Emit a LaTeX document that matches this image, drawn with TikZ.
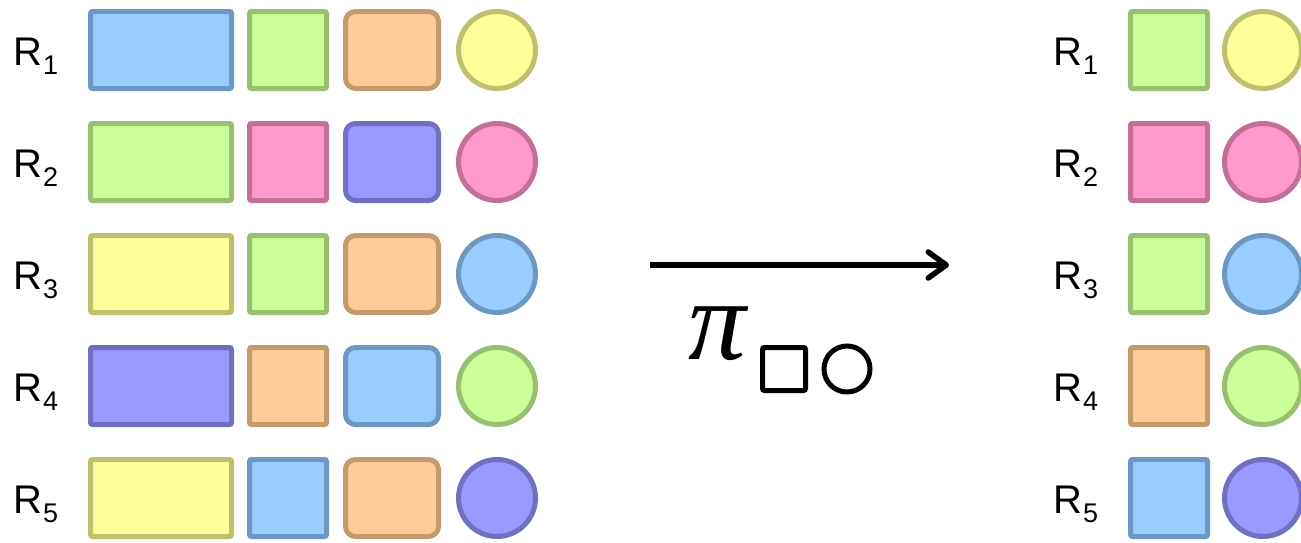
\documentclass[tikz,border=0pt]{standalone}
\usepackage{fontspec}
\setmainfont{Liberation Sans}
\newfontfamily\piserif{Liberation Serif}
\usetikzlibrary{arrows.meta}
\definecolor{bfill}{HTML}{99CCFF}\definecolor{bdraw}{HTML}{6E97C2}
\definecolor{gfill}{HTML}{CCFF99}\definecolor{gdraw}{HTML}{99BF73}
\definecolor{ofill}{HTML}{FFCC99}\definecolor{odraw}{HTML}{C29A70}
\definecolor{yfill}{HTML}{FFFF99}\definecolor{ydraw}{HTML}{BFBF6E}
\definecolor{pfill}{HTML}{FF99CC}\definecolor{pdraw}{HTML}{C2709A}
\definecolor{vfill}{HTML}{9999FF}\definecolor{vdraw}{HTML}{7070C2}
\tikzset{
  shp/.style={line width=5pt, inner sep=0pt, outer sep=0pt, minimum height=77pt},
  wide/.style={shp, rectangle, rounded corners=2pt, minimum width=141pt},
  sqr/.style={shp, rectangle, rounded corners=2pt, minimum width=77pt},
  rsq/.style={shp, rectangle, rounded corners=10pt, minimum width=93pt},
  circ/.style={shp, circle, minimum size=77pt},
  cB/.style={fill=bfill, draw=bdraw}, cG/.style={fill=gfill, draw=gdraw},
  cO/.style={fill=ofill, draw=odraw}, cY/.style={fill=yfill, draw=ydraw},
  cP/.style={fill=pfill, draw=pdraw}, cV/.style={fill=vfill, draw=vdraw},
  lbl/.style={inner sep=0pt, anchor=base west, font=\fontsize{40}{40}\selectfont},
}
\newcommand{\rlab}[1]{R\kern1pt\raisebox{-9pt}{\fontsize{27}{27}\selectfont #1}}
\begin{document}
\begin{tikzpicture}[x=1pt,y=-1pt]
\useasboundingbox (0,0) rectangle (1301,542);
\foreach \i/\a/\b/\c/\d in {1/cB/cG/cO/cY, 2/cG/cP/cV/cP, 3/cY/cG/cO/cB, 4/cV/cO/cB/cG, 5/cY/cB/cO/cV}{
  \pgfmathsetmacro{\yy}{50+112*(\i-1)}
  \node[lbl] (L\i) at (13,\yy+15) {\rlab{\i}};
  \node[wide,\a] (w\i) at (161,\yy) {};
  \node[sqr,\b] (s\i) at (288,\yy) {};
  \node[rsq,\c] (r\i) at (392,\yy) {};
  \node[circ,\d] (c\i) at (497,\yy) {};
  \node[lbl] (RL\i) at (1053,\yy+15) {\rlab{\i}};
  \node[sqr,\b] (rs\i) at (1169,\yy) {};
  \node[circ,\d] (rc\i) at (1263,\yy) {};
}
\coordinate (a0) at (650,265);
\coordinate (a1) at (949,265);
\draw[line width=5.5pt, -{Straight Barb[length=18pt,width=26pt,line cap=round,round]}] (a0) -- (a1);
\node[inner sep=0pt, font=\piserif\itshape\fontsize{115}{115}\selectfont] (pi) at (717,334) {π};
\node[draw, line width=5pt, rounded corners=2pt, minimum size=43pt, inner sep=0pt] (sq) at (784,369) {};
\node[draw, line width=5pt, circle, minimum size=46pt, inner sep=0pt] (ci) at (847,369) {};
\end{tikzpicture}
\end{document}
